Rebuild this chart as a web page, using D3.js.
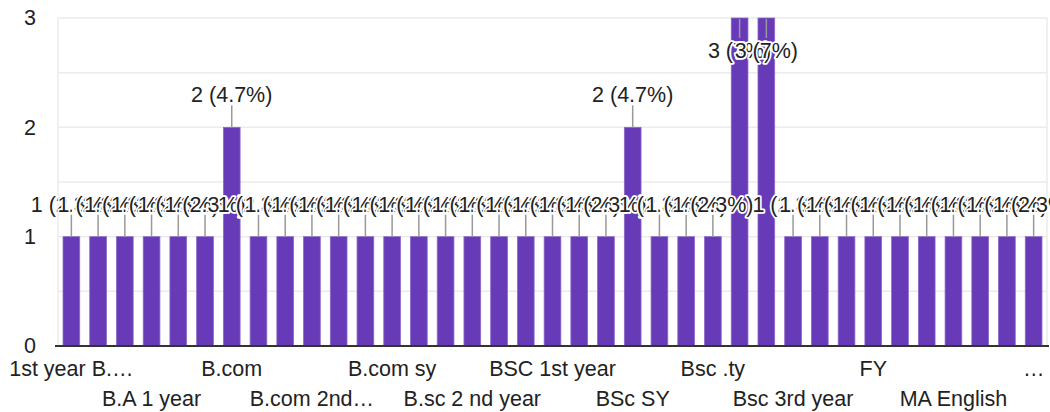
<!DOCTYPE html>
<html>
<head>
<meta charset="utf-8">
<script src="https://cdn.jsdelivr.net/npm/d3@7"></script>
<style>
  html, body { margin: 0; padding: 0; background: #fff; }
  svg { display: block; }
  text { font-family: Arial, "Liberation Sans", sans-serif; }
</style>
</head>
<body>
<svg id="chart" width="1050" height="412"></svg>
<script>
// ---- data ----
const categories = [
  "1st year B.Sc Physics", "1st year BA", "2nd year B.Sc", "B.A 1 year", "B.A 2nd year", "B.A sy",
  "B.com", "B.com 1st year", "B.com 2nd sem", "B.com 2nd year final", "B.com fy", "B.com sem 4",
  "B.com sy", "B.sc", "B.sc 1st year", "B.sc 2 nd year", "B.sc 3rd year", "BA",
  "BSC 1st year", "BSC 2nd year", "BSc", "BSc SY", "BSc TY", "Bsc",
  "Bsc .ty", "Bsc 1st year", "Bsc 2nd year", "Bsc 3rd year", "F.Y.B.Sc", "FYBSc",
  "FY", "FY B.com", "First year", "MA English", "MA Marathi", "S.Y.B.Sc",
  "TY B.Sc Chemistry"
];
const counts = [
  1, 1, 1, 1, 1, 1,
  2, 1, 1, 1, 1, 1,
  1, 1, 1, 1, 1, 1,
  1, 1, 1, 2, 1, 1,
  1, 3, 3, 1, 1, 1,
  1, 1, 1, 1, 1, 1,
  1
];
// displayed (truncated) x tick labels, one for every third category
const tickIndices = [0, 3, 6, 9, 12, 15, 18, 21, 24, 27, 30, 33, 36];
const tickLabels = ["1st year B.\u2026", "B.A 1 year", "B.com", "B.com 2nd\u2026", "B.com sy", "B.sc 2 nd year",
  "BSC 1st year", "BSc SY", "Bsc .ty", "Bsc 3rd year", "FY", "MA English", "\u2026"];
const yTicks = [0, 1, 2, 3];
const gridValues = [0.5, 1, 1.5, 2, 2.5, 3];

(function () {
// ---- layout ----
const svg = d3.select("#chart");
const pLeft = 58, pRight = 1047, pTop = 18, pBottom = 346;
const total = d3.sum(counts);
const fs = 21.5;

const x = d3.scaleBand()
  .domain(d3.range(categories.length))
  .range([pLeft, pRight])
  .paddingInner(0.375)
  .paddingOuter(0.1875);
const y = d3.scaleLinear().domain([0, 3]).range([pBottom, pTop]);

// gridlines
svg.append("g").selectAll("line").data(gridValues).join("line")
  .attr("x1", pLeft).attr("x2", pRight)
  .attr("y1", d => y(d)).attr("y2", d => y(d))
  .attr("stroke", "#ebebeb").attr("stroke-width", 1.5);
svg.append("g").selectAll("line").data([pLeft, pRight]).join("line")
  .attr("x1", d => d).attr("x2", d => d)
  .attr("y1", pTop).attr("y2", pBottom)
  .attr("stroke", "#ebebeb").attr("stroke-width", 1.5);

// y axis tick labels
const yAxis = d3.axisLeft(y).tickValues(yTicks).tickSize(0).tickPadding(0).tickFormat(d3.format("d"));
const gy = svg.append("g").attr("transform", `translate(${pLeft - 22},0)`).call(yAxis);
gy.select(".domain").remove();
gy.selectAll("text").attr("font-size", fs).attr("fill", "#222")
  .attr("font-family", "Arial, 'Liberation Sans', sans-serif");

// bars
svg.append("g").selectAll("rect").data(counts).join("rect")
  .attr("x", (d, i) => x(i))
  .attr("width", x.bandwidth())
  .attr("y", d => y(d))
  .attr("height", d => y(0) - y(d))
  .attr("fill", "#673ab7")
  .attr("stroke", "#8c69c9")
  .attr("stroke-width", 0.8);

// baseline
svg.append("line")
  .attr("x1", pLeft - 3).attr("x2", pRight + 2)
  .attr("y1", y(0)).attr("y2", y(0))
  .attr("stroke", "#333").attr("stroke-width", 2);

// annotations
const fmtPct = v => {
  const p = v / total * 100;
  const r = Math.round(p * 10) / 10;
  return (Math.abs(r - Math.round(r)) < 1e-9 ? d3.format(".0f")(r) : d3.format(".1f")(r)) + "%";
};
const ann = svg.append("g");
counts.forEach((v, i) => {
  const cx = x(i) + x.bandwidth() / 2;
  const atTop = v >= 3;
  const yTop = y(v);
  const y2 = atTop ? yTop + 20 : yTop - 22;
  ann.append("line")
    .attr("x1", cx).attr("x2", cx)
    .attr("y1", yTop + (atTop ? 1 : 0)).attr("y2", y2)
    .attr("stroke", "#999").attr("stroke-width", 1.5);
  ann.append("text")
    .attr("x", cx)
    .attr("y", atTop ? y2 + 20 : y2 - 3)
    .attr("text-anchor", "middle")
    .attr("font-size", fs)
    .attr("fill", "#222")
    .attr("stroke", "#fff").attr("stroke-width", 3.5)
    .attr("stroke-linejoin", "round")
    .attr("paint-order", "stroke")
    .text(`${v} (${fmtPct(v)})`);
});

// x axis labels
const xg = svg.append("g");
tickIndices.forEach((ci, k) => {
  xg.append("text")
    .attr("x", x(ci) + x.bandwidth() / 2)
    .attr("y", k % 2 === 0 ? 376 : 406)
    .attr("text-anchor", "middle")
    .attr("font-size", fs)
    .attr("fill", "#222")
    .text(tickLabels[k]);
});
})();
</script>
</body>
</html>
